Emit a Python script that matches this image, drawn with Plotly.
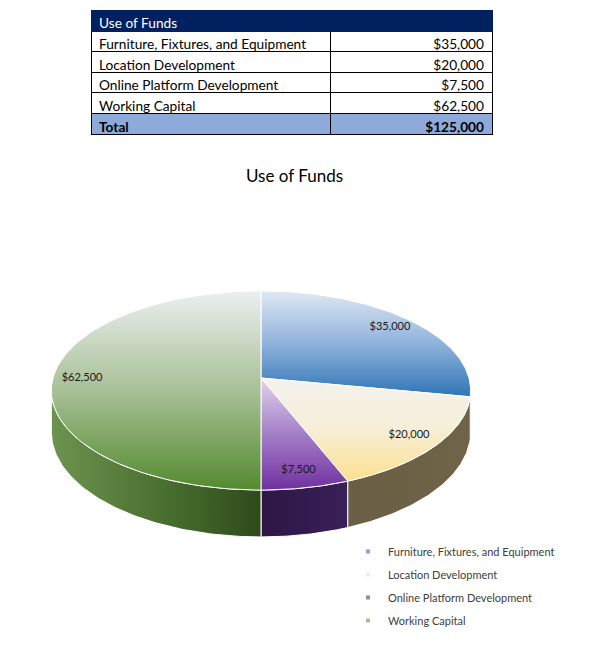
import numpy as np
import plotly.graph_objects as go

# data
categories = [
    "Furniture, Fixtures, and Equipment",
    "Location Development",
    "Online Platform Development",
    "Working Capital",
]
amounts = [35000, 20000, 7500, 62500]
table_title = "Use of Funds"
total_label = "Total"

# look of each slice: top face gradient (top -> bottom), side colours, legend swatch
top_scales = [
    [[0, "#dfe8f3"], [0.5, "#8fb2dc"], [1, "#2e75b6"]],
    [[0, "#f4f2ee"], [0.5, "#f6eed6"], [1, "#fde08e"]],
    [[0, "#e2d4ec"], [0.5, "#a57ec8"], [1, "#7030a0"]],
    [[0, "#eceff0"], [0.5, "#a8c096"], [1, "#538a2f"]],
]
side_scales = [
    [[0, "#1f4e79"], [1, "#1f4e79"]],
    [[0, "#6a5e44"], [1, "#6f6348"]],
    [[0, "#2c1745"], [1, "#3a1f58"]],
    [[0, "#6e9350"], [0.6, "#456b2c"], [1, "#2e4a1b"]],
]
legend_colors = ["#7ea9d8", "#f6ecd0", "#a07cc2", "#a9bf9c"]

# page body has an 8px margin: figure is sized so the page is 592x652
OFF = 8
FW, FH = 584, 636
CX, CY = 261, 378
RX, RY = 208, 98
PERSP = 0.1255
DEPTH = 41
TBL_TOP, HEAD_H, ROW_H = 10, 21, 20.6


def px(x):
    return (x - OFF) / FW


def py(y):
    return 1 - (y - OFF) / FH


def project(theta, r=1.0, drop=0.0):
    t = np.radians(theta)
    s = 1.0 / (1.0 + PERSP * np.cos(t) * r)
    return CX + RX * r * np.sin(t) * s, CY - RY * r * np.cos(t) * s + drop * s


def top_down(scale):
    # fillgradient runs bottom -> top on screen
    return [[1 - s, c] for s, c in reversed(scale)]


total = sum(amounts)
edges = np.concatenate([[0], np.cumsum(amounts) / total * 360])
edge_lo = np.degrees(np.arccos(-PERSP))
edge_hi = 360 - edge_lo

fig = go.Figure()

# side walls (visible front part only)
for i in range(len(amounts)):
    a, b = max(edges[i], edge_lo), min(edges[i + 1], edge_hi)
    if b <= a:
        continue
    th = np.linspace(a, b, 80)
    xt, yt = project(th)
    xb, yb = project(th[::-1], drop=DEPTH)
    fig.add_trace(go.Scatter(
        x=np.concatenate([xt, xb, xt[:1]]), y=np.concatenate([yt, yb, yt[:1]]),
        mode="lines", fill="toself", line=dict(color="white", width=1),
        fillgradient=dict(type="horizontal", colorscale=side_scales[i]),
        hoverinfo="skip", showlegend=False,
    ))

# top faces
for i in range(len(amounts)):
    th = np.linspace(edges[i], edges[i + 1], 120)
    xa, ya = project(th)
    fig.add_trace(go.Scatter(
        x=np.concatenate([[CX], xa, [CX]]), y=np.concatenate([[CY], ya, [CY]]),
        mode="lines", fill="toself", line=dict(color="white", width=1),
        fillgradient=dict(type="vertical", colorscale=top_down(top_scales[i])),
        name=categories[i], hoverinfo="name", showlegend=False,
    ))

# data labels
mids = (edges[:-1] + edges[1:]) / 2
lx, ly = project(mids, r=0.86)
fig.add_trace(go.Scatter(
    x=lx, y=ly, mode="text", text=[f"${v:,.0f}" for v in amounts],
    textfont=dict(family="Lato", size=11, color="#1a1a1a"),
    hoverinfo="skip", showlegend=False,
))

# legend entries
for i, name in enumerate(categories):
    fig.add_trace(go.Scatter(
        x=[None], y=[None], mode="markers", name=name, legendgroup=name,
        marker=dict(symbol="square", size=4, color=legend_colors[i]),
    ))

# table above the chart: body rows, then the bold total row as its own table
body_bottom = TBL_TOP + HEAD_H + ROW_H * len(amounts)
fig.add_trace(go.Table(
    domain=dict(x=[px(91), px(492)], y=[py(body_bottom + 10), py(TBL_TOP)]),
    columnwidth=[239, 162],
    header=dict(
        values=[table_title, ""], fill_color="#002060", line_color="#002060",
        align="left", height=HEAD_H,
        font=dict(family="Lato", size=13.7, color="white"),
    ),
    cells=dict(
        values=[categories, [f"${v:,.0f}" for v in amounts]],
        fill_color="white", line_color="black", align=["left", "right"],
        height=ROW_H, font=dict(family="Lato", size=13.7, color="black"),
    ),
))
fig.add_trace(go.Table(
    domain=dict(x=[px(91), px(492)],
                y=[py(body_bottom + ROW_H + 10), py(body_bottom)]),
    columnwidth=[239, 162],
    header=dict(
        values=[total_label, f"${total:,.0f}"],
        fill_color="#8eaadb", line_color="black", align=["left", "right"],
        height=ROW_H,
        font=dict(family="Lato", size=13.7, color="black", weight="bold"),
    ),
))

fig.update_layout(
    width=FW, height=FH, autosize=False,
    margin=dict(l=0, r=0, t=0, b=0),
    paper_bgcolor="white", plot_bgcolor="white",
    xaxis=dict(range=[OFF, OFF + FW], visible=False, fixedrange=True),
    yaxis=dict(range=[OFF + FH, OFF], visible=False, fixedrange=True),
    annotations=[dict(
        text=table_title, x=px(294), y=py(175), xref="paper", yref="paper",
        xanchor="center", yanchor="middle", showarrow=False,
        font=dict(family="Lato", size=17, color="black"),
    )],
    legend=dict(
        x=px(348), y=py(537), xanchor="left", yanchor="top",
        font=dict(family="Lato", size=11, color="#404040"),
        tracegroupgap=4, bgcolor="rgba(0,0,0,0)",
    ),
)

fig.write_html("out.html")
